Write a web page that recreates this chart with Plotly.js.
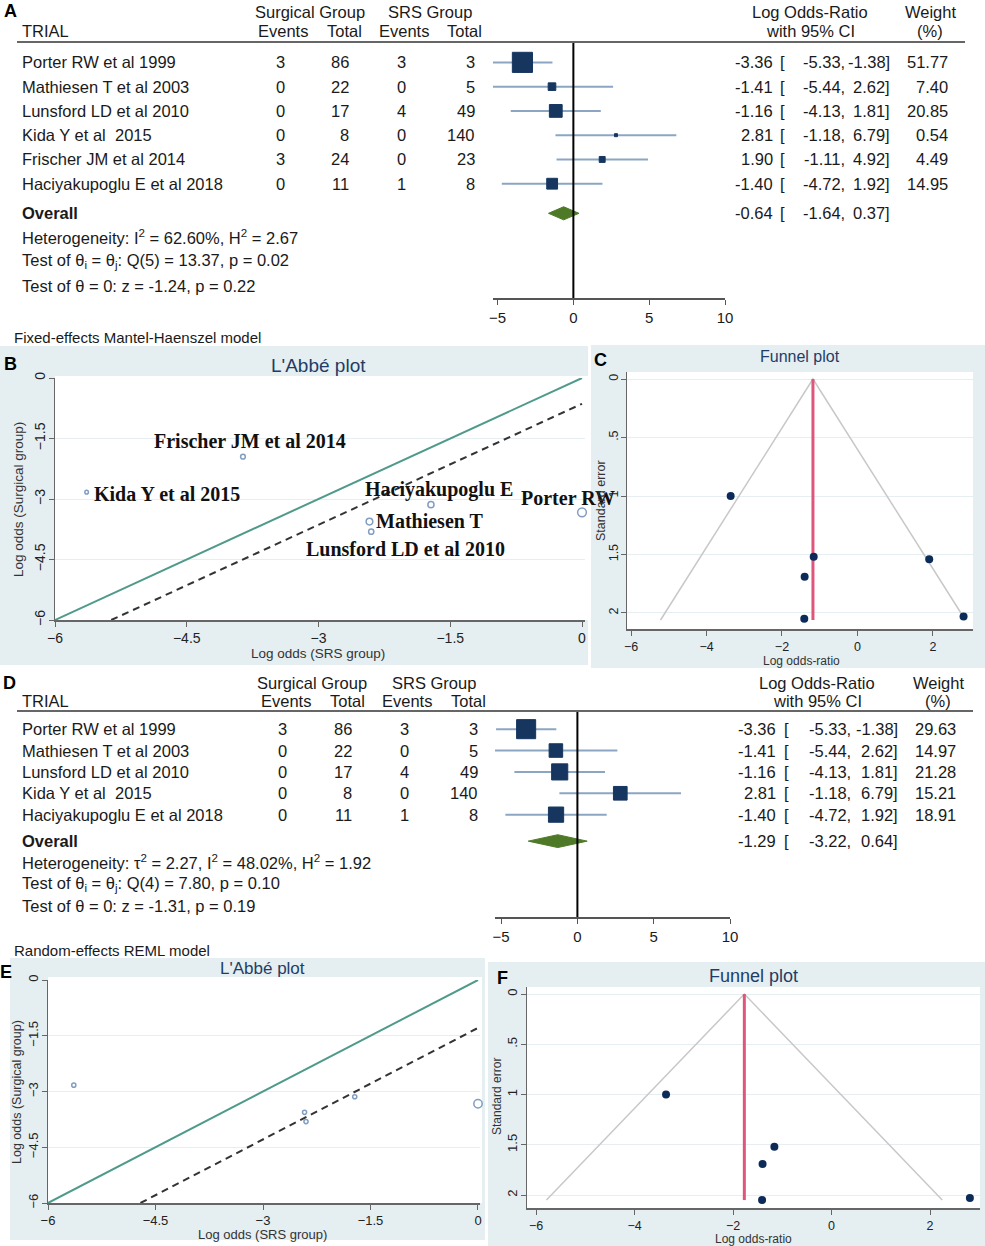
<!DOCTYPE html>
<html><head><meta charset="utf-8">
<script src="https://cdn.plot.ly/plotly-3.0.1.min.js"></script>
<style>html,body{margin:0;padding:0;background:#fff}#chart{width:985px;height:1246px}</style>
</head><body><div id="chart"></div>
<script>
// ---------------- DATA ----------------
// Panel A: fixed-effects Mantel-Haenszel
const studiesA = ["Porter RW et al 1999","Mathiesen T et al 2003","Lunsford LD et al 2010","Kida Y et al\u00a0 2015","Frischer JM et al 2014","Haciyakupoglu E et al 2018"];
const surgEventsA = [3,0,0,0,3,0];
const surgTotalA  = [86,22,17,8,24,11];
const srsEventsA  = [3,0,4,0,0,1];
const srsTotalA   = [3,5,49,140,23,8];
const lorA   = [-3.36,-1.41,-1.16,2.81,1.90,-1.40];
const loA    = [-5.33,-5.44,-4.13,-1.18,-1.11,-4.72];
const hiA    = [-1.38,2.62,1.81,6.79,4.92,1.92];
const weightA = [51.77,7.40,20.85,0.54,4.49,14.95];
const overallA = [-0.64,-1.64,0.37];   // estimate, lower, upper
const statsA = ["Heterogeneity: I<sup>2</sup> = 62.60%, H<sup>2</sup> = 2.67",
                "Test of θ<sub>i</sub> = θ<sub>j</sub>: Q(5) = 13.37, p = 0.02",
                "Test of θ = 0: z = -1.24, p = 0.22"];
const modelA = "Fixed-effects Mantel-Haenszel model";

// Panel D: random-effects REML
const studiesD = ["Porter RW et al 1999","Mathiesen T et al 2003","Lunsford LD et al 2010","Kida Y et al\u00a0 2015","Haciyakupoglu E et al 2018"];
const surgEventsD = [3,0,0,0,0];
const surgTotalD  = [86,22,17,8,11];
const srsEventsD  = [3,0,4,0,1];
const srsTotalD   = [3,5,49,140,8];
const lorD   = [-3.36,-1.41,-1.16,2.81,-1.40];
const loD    = [-5.33,-5.44,-4.13,-1.18,-4.72];
const hiD    = [-1.38,2.62,1.81,6.79,1.92];
const weightD = [29.63,14.97,21.28,15.21,18.91];
const overallD = [-1.29,-3.22,0.64];
const statsD = ["Heterogeneity: τ<sup>2</sup> = 2.27, I<sup>2</sup> = 48.02%, H<sup>2</sup> = 1.92",
                "Test of θ<sub>i</sub> = θ<sub>j</sub>: Q(4) = 7.80, p = 0.10",
                "Test of θ = 0: z = -1.31, p = 0.19"];
const modelD = "Random-effects REML model";

// Panel B / E: L'Abbé plots (log odds)
const labbeSrsB  = [0.00,-2.40,-2.42,-5.64,-3.86,-1.72];
const labbeSurgB = [-3.33,-3.81,-3.56,-2.83,-1.95,-3.14];
const labbeLabelsB = ["Porter RW","Mathiesen T","Lunsford LD et al 2010","Kida Y et al 2015","Frischer JM et al 2014","Haciyakupoglu E"];
const labbeSrsE  = [0.00,-2.40,-2.42,-5.64,-1.72];
const labbeSurgE = [-3.33,-3.81,-3.56,-2.83,-3.14];
const labbeTicks = [-6,-4.5,-3,-1.5,0];

// Panel C / F: funnel plots
const seC = [1.00,2.05,1.52,2.03,1.54,1.69];
const pooledC = -1.18, maxSeC = 2.06;
const seF = [1.00,2.05,1.52,2.03,1.69];
const pooledF = -1.77, maxSeF = 2.05;
const funnelXTicks = [-6,-4,-2,0,2];
const funnelYTicks = [0,0.5,1,1.5,2];
const funnelYText  = ["0",".5","1","1.5","2"];
const forestTicks = [-5,0,5,10];

// ---------------- LAYOUT HELPERS ----------------
const W = 985, H = 1246;
const SANS = "Liberation Sans, Arial, sans-serif";
const SERIF = "Liberation Serif, Times New Roman, serif";
const P = x => x / W;
const Q = y => 1 - y / H;
const dx = (a, b) => [P(a), P(b)];
const dy = (top, bot) => [Q(bot), Q(top)];
const BG = '#e5eef1', GRID = '#e6eef1', AX = '#666';
const TXT = '#1a1a1a';
const TS = 16.5;

const traces = [];
const annotations = [];
const shapes = [];

function txt(text, x, y, o) {
  o = o || {};
  annotations.push({text: text, x: o.xref ? x : P(x), y: o.yref ? y : Q(y),
    xref: o.xref || 'paper', yref: o.yref || 'paper', showarrow: false,
    xanchor: o.xa || 'left', yanchor: 'middle', textangle: o.angle || 0,
    font: {family: o.family || SANS, size: o.size || TS, color: o.color || TXT}});
}
function rect(x0, y0, x1, y1, color) {
  shapes.push({type: 'rect', xref: 'paper', yref: 'paper', x0: P(x0), x1: P(x1), y0: Q(y1), y1: Q(y0),
    fillcolor: color, line: {width: 0}, layer: 'below'});
}
function hline(x0, x1, y, color, w) {
  shapes.push({type: 'line', xref: 'paper', yref: 'paper', x0: P(x0), x1: P(x1), y0: Q(y), y1: Q(y),
    line: {color: color, width: w}, layer: 'above'});
}

// ---------------- FOREST PANELS ----------------
function forest(cfg) {
  const n = cfg.studies.length;
  const rows = cfg.studies.map((_, i) => i);
  const ovRow = n + cfg.ovOffset;
  const xa = cfg.xa, ya = cfg.ya;
  // confidence intervals
  const cix = [], ciy = [];
  rows.forEach(i => { cix.push(cfg.lo[i], cfg.hi[i], null); ciy.push(i, i, null); });
  traces.push({type: 'scatter', mode: 'lines', x: cix, y: ciy, xaxis: xa, yaxis: ya,
    line: {color: '#8ba6c3', width: 2}, hoverinfo: 'skip', showlegend: false, cliponaxis: false});
  // weighted boxes
  traces.push({type: 'scatter', mode: 'markers', x: cfg.lor, y: rows, xaxis: xa, yaxis: ya,
    marker: {symbol: 'square', size: cfg.weight.map(w => Math.max(3, cfg.boxScale * Math.sqrt(w))), color: '#16365f',
      opacity: 1, line: {width: 1, color: '#16365f'}},
    opacity: 1, hoverinfo: 'skip', showlegend: false, cliponaxis: false});
  const ov = cfg.overall, h = cfg.diamondHalf;
  traces.push({type: 'scatter', mode: 'lines', x: [ov[1], ov[0], ov[2], ov[0], ov[1]],
    y: [ovRow, ovRow - h, ovRow, ovRow + h, ovRow], fill: 'toself', fillcolor: '#4e7a28',
    line: {color: '#4e7a28', width: 1}, xaxis: xa, yaxis: ya, hoverinfo: 'skip', showlegend: false});
  // zero line
  shapes.push({type: 'line', xref: xa, yref: ya, x0: 0, x1: 0, y0: cfg.yRange[1], y1: cfg.yRange[0],
    line: {color: '#000', width: 2}, layer: 'above'});
  // header
  const hd = cfg.head, c = cfg.cols;
  txt("Surgical Group", hd.sg, hd.y1, {xa: 'center'});
  txt("SRS Group", hd.srs, hd.y1, {xa: 'center'});
  txt("TRIAL", c.name, hd.y2);
  txt("Events", hd.e1, hd.y2, {xa: 'center'});
  txt("Total", hd.t1, hd.y2, {xa: 'center'});
  txt("Events", hd.e2, hd.y2, {xa: 'center'});
  txt("Total", hd.t2, hd.y2, {xa: 'center'});
  txt("Log Odds-Ratio", hd.lor, hd.y1, {xa: 'center'});
  txt("with 95% CI", hd.lor, hd.y2, {xa: 'center'});
  txt("Weight", hd.wt, hd.y1, {xa: 'center'});
  txt("(%)", hd.wt, hd.y2, {xa: 'center'});
  hline(17, hd.ruleEnd, hd.rule, '#666', 2);
  const yo = {yref: ya};
  for (let i = 0; i < n; i++) {
    txt(cfg.studies[i], c.name, i, yo);
    txt(String(cfg.se[i]), c.se, i, {yref: ya, xa: 'center'});
    txt(String(cfg.st[i]), c.st, i, {yref: ya, xa: 'right'});
    txt(String(cfg.re[i]), c.re, i, {yref: ya, xa: 'center'});
    txt(String(cfg.rt[i]), c.rt, i, {yref: ya, xa: 'right'});
    txt(cfg.lor[i].toFixed(2), c.est, i, {yref: ya, xa: 'right'});
    txt("[", c.br, i, yo);
    txt(cfg.lo[i].toFixed(2) + ",", c.lo, i, {yref: ya, xa: 'right'});
    txt(cfg.hi[i].toFixed(2) + "]", c.hi, i, {yref: ya, xa: 'right'});
    txt(cfg.weight[i].toFixed(2), c.wt, i, {yref: ya, xa: 'right'});
  }
  txt("<b>Overall</b>", c.name, ovRow, yo);
  txt(ov[0].toFixed(2), c.est, ovRow, {yref: ya, xa: 'right'});
  txt("[", c.br, ovRow, yo);
  txt(ov[1].toFixed(2) + ",", c.lo, ovRow, {yref: ya, xa: 'right'});
  txt(ov[2].toFixed(2) + "]", c.hi, ovRow, {yref: ya, xa: 'right'});
  cfg.stats.forEach((s, k) => txt(s, c.name, cfg.statY[k]));
  txt(cfg.model, 12, cfg.modelY, {size: 15});
}

forest({studies: studiesA, se: surgEventsA, st: surgTotalA, re: srsEventsA, rt: srsTotalA,
  lor: lorA, lo: loA, hi: hiA, weight: weightA, overall: overallA, stats: statsA, model: modelA,
  xa: 'x', ya: 'y', ovOffset: 0.22, boxScale: 2.8, diamondHalf: 0.27, yRange: [9.71, -0.84],
  head: {y1: 12, y2: 31, sg: 310, srs: 430, e1: 283, t1: 344, e2: 404, t2: 464, lor: 810, wt: 930, rule: 42, ruleEnd: 965},
  cols: {name: 20, se: 280, st: 351, re: 401, rt: 477, est: 775, br: 778, lo: 847, hi: 892, wt: 950},
  statY: [237, 261.5, 285.5], modelY: 337});

forest({studies: studiesD, se: surgEventsD, st: surgTotalD, re: srsEventsD, rt: srsTotalD,
  lor: lorD, lo: loD, hi: hiD, weight: weightD, overall: overallD, stats: statsD, model: modelD,
  xa: 'x2', ya: 'y2', ovOffset: 0.24, boxScale: 3.5, diamondHalf: 0.3, yRange: [8.79, -0.85],
  head: {y1: 683, y2: 701, sg: 312, srs: 434, e1: 286, t1: 347, e2: 407, t2: 468, lor: 817, wt: 938, rule: 711, ruleEnd: 973},
  cols: {name: 20, se: 282, st: 354, re: 404, rt: 480, est: 778, br: 782, lo: 853, hi: 900, wt: 958},
  statY: [862, 884, 906], modelY: 950});

// ---------------- BACKGROUNDS ----------------
rect(0, 346, 588, 665, BG);      // B
rect(591, 345, 985, 668, BG);    // C
rect(10, 958, 485, 1240, BG);    // E
rect(488, 962, 985, 1246, BG);   // F
rect(55, 376, 588, 620, '#fff');
rect(627, 372, 973, 629, '#fff');
rect(48, 977, 482, 1203, '#fff');
rect(527, 987, 980, 1208, '#fff');

// ---------------- L'ABBE PANELS ----------------
function labbe(xs, ys, ov, xa, ya, weights, sizeK) {
  const lo = labbeTicks[0], hi = labbeTicks[labbeTicks.length - 1];
  traces.push({type: 'scatter', mode: 'lines', x: [lo, hi], y: [lo, hi], xaxis: xa, yaxis: ya,
    line: {color: '#4f9a8a', width: 2}, hoverinfo: 'skip', showlegend: false, cliponaxis: false});
  traces.push({type: 'scatter', mode: 'lines', x: [lo - ov, hi], y: [lo, hi + ov], xaxis: xa, yaxis: ya,
    line: {color: '#333', width: 2, dash: '7px,5px'}, hoverinfo: 'skip', showlegend: false, cliponaxis: false});
  traces.push({type: 'scatter', mode: 'markers', x: xs, y: ys, xaxis: xa, yaxis: ya,
    marker: {symbol: 'circle-open', size: weights.map(w => 3 + sizeK * Math.sqrt(w)), color: '#4b73a6', line: {width: 1.5}},
    hoverinfo: 'skip', showlegend: false, cliponaxis: false});
}
labbe(labbeSrsB, labbeSurgB, overallA[0], 'x3', 'y3', weightA, 0.8);
labbe(labbeSrsE, labbeSurgE, overallD[0], 'x5', 'y5', weightD.map((w, i) => i === 0 ? 45 : 2), 0.8);

// B labels (serif, pasted on the picture)
const labelPosB = [[519, 498], [374, 521], [304, 549], [92, 494], [152, 441], [363, 489]];
labbeLabelsB.forEach((t, i) => txt("<b>" + t + "</b>", labelPosB[i][0], labelPosB[i][1], {family: SERIF, size: 20, color: '#111'}));

// ---------------- FUNNEL PANELS ----------------
function funnel(xs, ses, pooled, maxSe, xa, ya) {
  traces.push({type: 'scatter', mode: 'lines', x: [pooled - 1.96 * maxSe, pooled, pooled + 1.96 * maxSe],
    y: [maxSe, 0, maxSe], xaxis: xa, yaxis: ya, line: {color: '#c8c8c8', width: 1.5},
    hoverinfo: 'skip', showlegend: false, cliponaxis: false});
  traces.push({type: 'scatter', mode: 'lines', x: [pooled, pooled], y: [0, maxSe], xaxis: xa, yaxis: ya,
    line: {color: '#e0557c', width: 3}, hoverinfo: 'skip', showlegend: false, cliponaxis: false});
  traces.push({type: 'scatter', mode: 'markers', x: xs, y: ses, xaxis: xa, yaxis: ya,
    marker: {symbol: 'circle', size: 8, color: '#0d2b58'}, hoverinfo: 'skip', showlegend: false, cliponaxis: false});
}
funnel(lorA, seC, pooledC, maxSeC, 'x4', 'y4');
funnel(lorD, seF, pooledF, maxSeF, 'x6', 'y6');

// ---------------- TITLES / LABELS ----------------
const TITLE_C = '#1f3d66';
txt("L'Abbé plot", 318, 366, {xa: 'center', size: 19, color: TITLE_C});
txt("Funnel plot", 800, 357, {xa: 'center', size: 16, color: TITLE_C});
txt("L'Abbé plot", 262, 968, {xa: 'center', size: 17, color: TITLE_C});
txt("Funnel plot", 753, 976, {xa: 'center', size: 18, color: TITLE_C});

txt("Log odds (Surgical group)", 18, 500, {xa: 'center', angle: -90, size: 13.5, color: '#333'});
txt("Log odds (SRS group)", 318, 653, {xa: 'center', size: 13.5, color: '#333'});
txt("Standard error", 601, 501, {xa: 'center', angle: -90, size: 12.5, color: '#333'});
txt("Log odds-ratio", 801, 661, {xa: 'center', size: 12, color: '#333'});
txt("Log odds (Surgical group)", 17, 1092, {xa: 'center', angle: -90, size: 12.5, color: '#333'});
txt("Log odds (SRS group)", 262, 1234, {xa: 'center', size: 13, color: '#333'});
txt("Standard error", 497, 1097, {xa: 'center', angle: -90, size: 12, color: '#333'});
txt("Log odds-ratio", 753, 1238.5, {xa: 'center', size: 12, color: '#333'});

[["A", 10, 11], ["B", 10, 364], ["C", 600, 360], ["D", 9, 683], ["E", 6, 972], ["F", 503, 978]]
  .forEach(l => txt("<b>" + l[0] + "</b>", l[1], l[2], {xa: 'center', size: 18, color: '#000'}));

// ---------------- AXES ----------------
function forestX(dom, range, anchor) {
  return {domain: dom, range: range, anchor: anchor, tickvals: forestTicks, showline: true, linecolor: '#555',
    linewidth: 1.5, ticks: 'outside', ticklen: 5, tickcolor: '#555', showgrid: false, zeroline: false,
    tickfont: {family: SANS, size: 15, color: TXT}, fixedrange: true};
}
function hiddenY(dom, range, anchor) {
  return {domain: dom, range: range, anchor: anchor, visible: false, fixedrange: true};
}
function plotX(dom, range, anchor, ticks, size, text) {
  const o = {domain: dom, range: range, anchor: anchor, tickvals: ticks, showline: true, linecolor: AX, linewidth: 1.5,
    ticks: 'outside', ticklen: 5, tickcolor: AX, showgrid: false, zeroline: false,
    tickfont: {family: SANS, size: size, color: '#222'}, fixedrange: true};
  if (text) o.ticktext = text;
  return o;
}
function plotY(dom, range, anchor, ticks, size, text) {
  const o = plotX(dom, range, anchor, ticks, size, text);
  o.tickangle = -90; o.showgrid = true; o.gridcolor = GRID; o.gridwidth = 1; o.ticklabelstandoff = -2;
  return o;
}

const layout = {
  width: W, height: H, margin: {l: 0, r: 0, t: 0, b: 0}, paper_bgcolor: '#fff', plot_bgcolor: 'rgba(0,0,0,0)',
  showlegend: false, font: {family: SANS},
  xaxis: forestX(dx(493, 725), [-5.3, 10], 'y'),
  yaxis: hiddenY(dy(42, 298), [9.71, -0.84], 'x'),
  xaxis2: forestX(dx(495, 730), [-5.4, 10], 'y2'),
  yaxis2: hiddenY(dy(711, 917), [8.79, -0.85], 'x2'),
  xaxis3: plotX(dx(55, 585), [-6, 0.034], 'y3', labbeTicks, 14),
  yaxis3: plotY(dy(378, 620), [-6, 0], 'x3', labbeTicks, 14),
  xaxis4: plotX(dx(627, 973), [-6.106, 3.06], 'y4', funnelXTicks, 12.5),
  yaxis4: plotY(dy(372, 629), [2.137, -0.06], 'x4', funnelYTicks, 12.5, funnelYText),
  xaxis5: plotX(dx(48, 480), [-6, 0.028], 'y5', labbeTicks, 13),
  yaxis5: plotY(dy(980, 1203), [-6, 0], 'x5', labbeTicks, 13),
  xaxis6: plotX(dx(527, 980), [-6.183, 3.015], 'y6', funnelXTicks, 12.5),
  yaxis6: plotY(dy(987, 1208), [2.129, -0.07], 'x6', funnelYTicks, 13, funnelYText),
  shapes: shapes, annotations: annotations
};

Plotly.newPlot('chart', traces, layout, {displayModeBar: false, staticPlot: true});
</script></body></html>
